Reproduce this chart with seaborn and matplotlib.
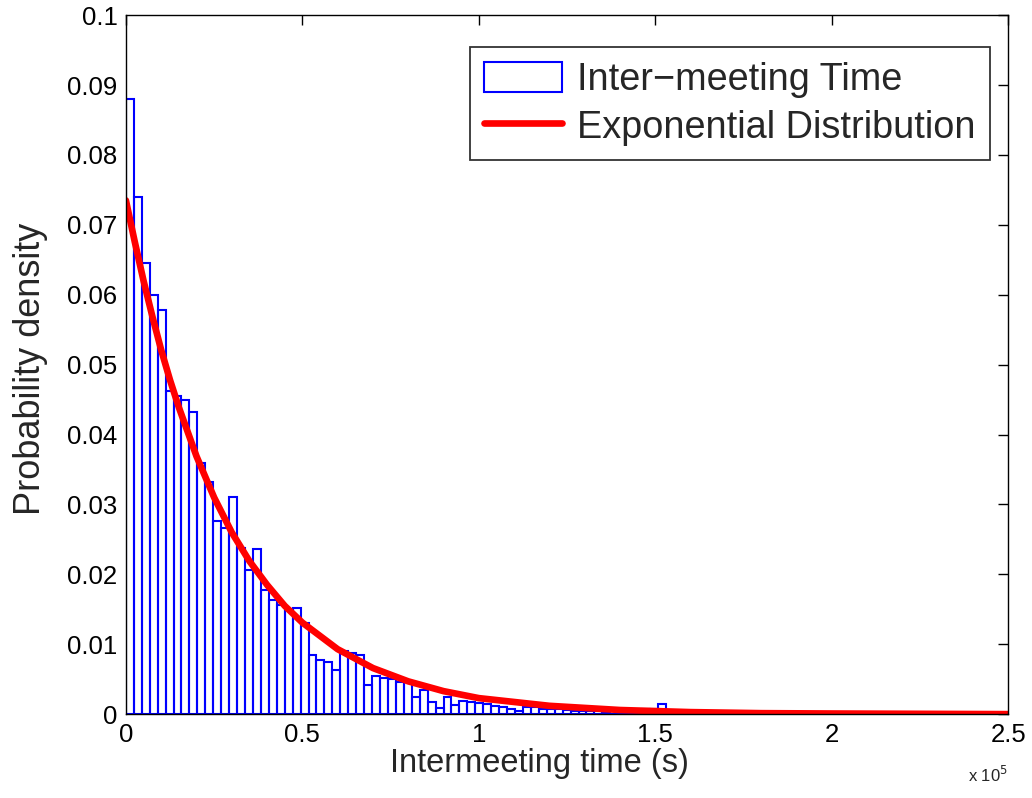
import numpy as np
import pandas as pd
import matplotlib
matplotlib.use("Agg")
import matplotlib.pyplot as plt
import seaborn as sns

# ---- data ----
bin_width = 2250.0  # seconds per histogram bin
hist_heights = [
    0.0880, 0.0740, 0.0645, 0.0600, 0.0578, 0.0463, 0.0455, 0.0450, 0.0433, 0.0360,
    0.0332, 0.0276, 0.0267, 0.0311, 0.0238, 0.0207, 0.0236, 0.0177, 0.0163, 0.0156,
    0.0150, 0.0152, 0.0130, 0.0084, 0.0077, 0.0074, 0.0063, 0.0091, 0.0088, 0.0084,
    0.0042, 0.0054, 0.0052, 0.0050, 0.0046, 0.0046, 0.0024, 0.0035, 0.0017, 0.0009,
    0.0024, 0.0013, 0.0019, 0.0018, 0.0016, 0.0014, 0.0012, 0.0010, 0.0007, 0.0004,
    0.0010, 0.0011, 0.0008, 0.0007, 0.0007, 0.0006, 0.0005, 0.0005, 0.0004, 0.0005,
    0.0003, 0.0004, 0.0006, 0.0003, 0.0004, 0.0008, 0.0008, 0.0015, 0.0004, 0.0004,
    0.0003, 0.0002, 0.0001, 0.0001, 0.0001, 0.0002, 0.0003, 0.0001, 0.0003, 0.0001,
    0.0001, 0.0001, 0.0001, 0.0000, 0.0001, 0.0000, 0.0001, 0.0000, 0.0000, 0.0001,
    0.0000, 0.0000, 0.0001, 0.0000, 0.0000, 0.0000, 0.0000, 0.0001, 0.0000, 0.0000,
]
curve_x = [0, 2500, 5000, 7500, 10000, 12500, 15000, 20000, 25000, 30000, 35000,
           40000, 45000, 50000, 60000, 70000, 80000, 90000, 100000, 120000,
           140000, 160000, 180000, 200000, 250000]
curve_y = [0.0735, 0.0676, 0.0620, 0.0569, 0.0521, 0.0478, 0.0439, 0.0369, 0.0310,
           0.0260, 0.0219, 0.0185, 0.0155, 0.0131, 0.0093, 0.0066, 0.0047, 0.0033,
           0.0023, 0.0012, 0.0006, 0.0003, 0.00015, 0.0001, 0.00001]
x_ticks = [0, 50000, 100000, 150000, 200000, 250000]
x_tick_labels = ["0", "0.5", "1", "1.5", "2", "2.5"]
y_ticks = [0, 0.01, 0.02, 0.03, 0.04, 0.05, 0.06, 0.07, 0.08, 0.09, 0.1]
y_tick_labels = ["0", "0.01", "0.02", "0.03", "0.04", "0.05", "0.06", "0.07", "0.08", "0.09", "0.1"]
hist_label = "Inter\u2212meeting Time"
curve_label = "Exponential Distribution"

# ---- build tables ----
n_bins = len(hist_heights)
centers = (np.arange(n_bins) + 0.5) * bin_width
hist_df = pd.DataFrame({"t": centers, "w": hist_heights})
curve_df = pd.DataFrame({"t": curve_x, "p": curve_y})

sns.set_style("white")
plt.rcParams["font.family"] = ["Liberation Sans", "DejaVu Sans"]

fig = plt.figure(figsize=(10.32, 7.98), dpi=100)
ax = fig.add_axes([0.122, 0.105, 0.855, 0.876])

sns.histplot(data=hist_df, x="t", weights="w", binwidth=bin_width,
             binrange=(0, n_bins * bin_width), stat="count",
             element="bars", fill=False, color="#0000ff", linewidth=1.5,
             ax=ax, label=hist_label)
sns.lineplot(data=curve_df, x="t", y="p", color="#ff0000", linewidth=4.8,
             ax=ax, label=curve_label)

ax.set_xlim(0, 250000)
ax.set_ylim(0, 0.1)
ax.set_xticks(x_ticks)
ax.set_xticklabels(x_tick_labels)
ax.set_yticks(y_ticks)
ax.set_yticklabels(y_tick_labels)
ax.tick_params(direction="in", length=7, width=1, labelsize=18.5,
               top=True, right=True, colors="black", pad=6)
for s in ax.spines.values():
    s.set_color("black")
    s.set_linewidth(1.0)

ax.set_xlabel("Intermeeting time (s)", fontsize=23.5)
ax.xaxis.label.set_va("center")
ax.xaxis.set_label_coords(0.469, -0.070)
ax.set_ylabel("Probability density", fontsize=26)
ax.yaxis.label.set_va("center")
ax.yaxis.set_label_coords(-0.1077, 0.4936)
ax.text(1.0, -0.087, r"x 10$^5$", transform=ax.transAxes, ha="right",
        va="center", fontsize=12)

handles, labels = ax.get_legend_handles_labels()
order = [labels.index(hist_label), labels.index(curve_label)]
leg = ax.legend([handles[i] for i in order], [labels[i] for i in order],
                loc="upper right", bbox_to_anchor=(0.9796, 0.954),
                borderaxespad=0.0, fontsize=27.3, frameon=True, fancybox=False,
                edgecolor="black", handlelength=2.05, handleheight=0.85,
                labelspacing=0.3, handletextpad=0.4, borderpad=0.38)
leg.get_frame().set_linewidth(1.3)

fig.savefig("out.png", dpi=100)
